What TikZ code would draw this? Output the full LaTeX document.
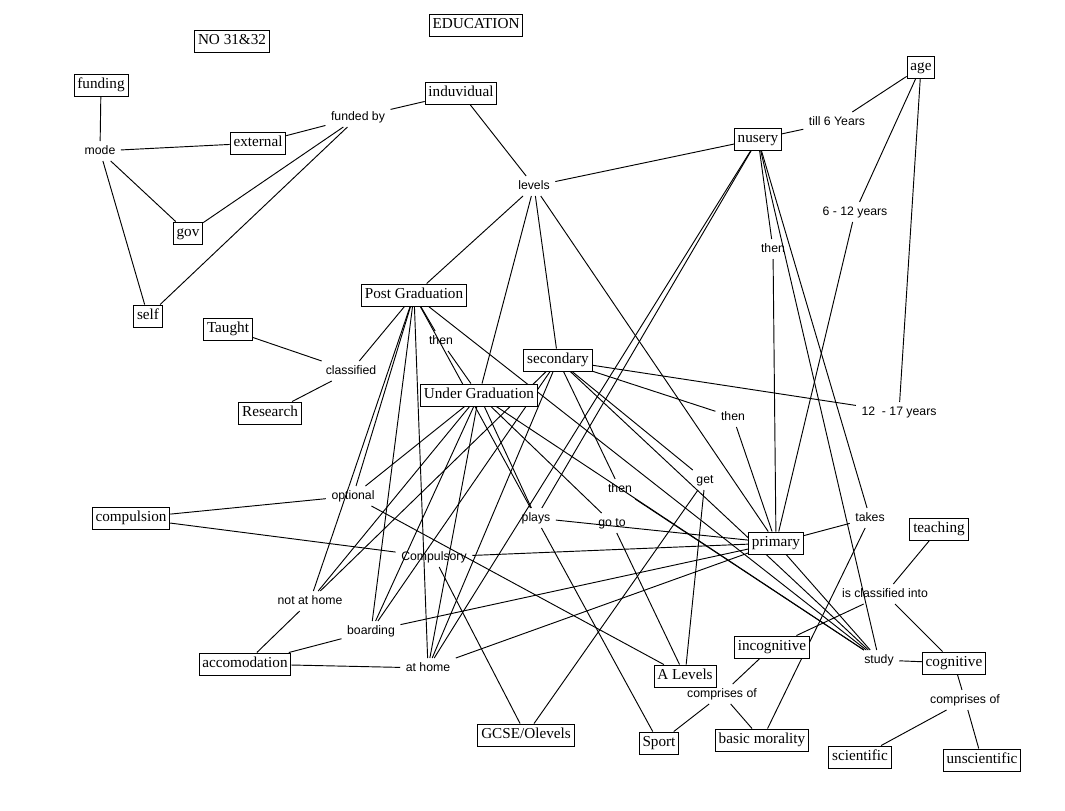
\documentclass[tikz,border=0pt]{standalone}
\usepackage{fontspec}
\setmainfont{Liberation Serif}
\newfontfamily\lsans{Liberation Sans}
\usetikzlibrary{backgrounds}
\begin{document}
\begin{tikzpicture}[x=0.75pt,y=-0.75pt,
  box/.style={draw, fill=white, line width=0.7pt, font=\fontsize{11.4}{13}\selectfont,
    inner xsep=2.5pt, inner ysep=3pt, text height=8pt, text depth=2.5pt},
  lbl/.style={font=\lsans\fontsize{9.2}{11}\selectfont, inner xsep=4pt, inner ysep=3pt,
    text height=6.8pt, text depth=1.8pt},
  edge/.style={line width=0.7pt, black}]
\useasboundingbox (0,0) rectangle (1065,811);
% nodes
\node[box] (edu) at (476,25) {EDUCATION};
\node[box] (no) at (232,41) {NO 31\&32};
\node[box] (funding) at (101,85) {funding};
\node[box] (induvidual) at (461,93) {induvidual};
\node[lbl] (fundedby) at (358,117) {funded by};
\node[lbl] (mode) at (100,151) {mode};
\node[box] (external) at (258,143) {external};
\node[box] (gov) at (188,233) {gov};
\node[box] (self) at (148,316) {self};
\node[lbl] (levels) at (534,186) {levels};
\node[box] (age) at (921,67) {age};
\node[lbl] (till6) at (837,122) {till 6 Years};
\node[box] (nusery) at (758,139) {nusery};
\node[lbl] (y612) at (855,212) {6 - 12 years};
\node[lbl] (then1) at (773,249) {then};
\node[box] (pg) at (414,295) {Post Graduation};
\node[box] (taught) at (228,329) {Taught};
\node[lbl] (classified) at (351,371) {classified};
\node[box] (research) at (270,413) {Research};
\node[lbl] (then2) at (441,341) {then};
\node[box] (secondary) at (558,360) {secondary};
\node[box] (ug) at (479,395) {Under Graduation};
\node[lbl] (then3) at (733,417) {then};
\node[lbl] (y1217) at (899,412) {12\ \ - 17 years};
\node[lbl] (get) at (705,480) {get};
\node[lbl] (then4) at (620,489) {then};
\node[lbl] (optional) at (353,496) {optional};
\node[box] (compulsion) at (131,518) {compulsion};
\node[lbl] (plays) at (536,518) {plays};
\node[lbl] (goto) at (612,523) {go to};
\node[lbl] (takes) at (870,518) {takes};
\node[box] (teaching) at (939,529) {teaching};
\node[box] (primary) at (776,543) {primary};
\node[lbl] (compulsory) at (434,557) {Compulsory};
\node[lbl] (isclass) at (885,594) {is classified into};
\node[lbl] (notathome) at (310,601) {not at home};
\node[lbl] (boarding) at (371,631) {boarding};
\node[box] (incognitive) at (772,647) {incognitive};
\node[lbl] (study) at (879,660) {study};
\node[box] (cognitive) at (954,663) {cognitive};
\node[box] (accomodation) at (245,664) {accomodation};
\node[lbl] (athome) at (428,668) {at home};
\node[box] (alevels) at (685,676) {A Levels};
\node[lbl] (compA) at (722,694) {comprises of};
\node[lbl] (compB) at (965,700) {comprises of};
\node[box] (gcse) at (526,735) {GCSE/Olevels};
\node[box] (sport) at (659,743) {Sport};
\node[box] (basic) at (762,740) {basic morality};
\node[box] (scientific) at (860,757) {scientific};
\node[box] (unscientific) at (982,760) {unscientific};
% connectors
\begin{scope}[on background layer]
\fill[white] (0,0) rectangle (1065,811);
\foreach \a/\b in {funding/mode, mode/external, mode/gov, mode/self,
  external/fundedby, gov/fundedby, self/fundedby, fundedby/induvidual,
  induvidual/levels, levels/nusery, levels/pg, levels/ug, levels/secondary, levels/primary,
  nusery/till6, till6/age, age/y612, y612/primary, age/y1217, y1217/secondary,
  nusery/then1, then1/primary, nusery/takes, nusery/study, nusery/plays, nusery/athome,
  pg/then2, then2/ug, pg/classified, classified/taught, classified/research,
  pg/optional, pg/notathome, pg/boarding, pg/athome, pg/plays, pg/study,
  ug/optional, ug/notathome, ug/boarding, ug/athome, ug/plays, ug/goto, ug/study,
  secondary/then3, then3/primary, secondary/then4, then4/study, secondary/get,
  secondary/notathome, secondary/boarding, secondary/athome, secondary/study,
  get/gcse, get/alevels,
  primary/plays, primary/compulsory, primary/boarding, primary/athome, primary/takes, primary/study,
  compulsion/optional, compulsion/compulsory, optional/alevels, compulsory/gcse,
  notathome/accomodation, boarding/accomodation, athome/accomodation,
  plays/sport, goto/alevels, takes/basic,
  teaching/isclass, isclass/incognitive, isclass/cognitive, study/cognitive,
  incognitive/compA, compA/sport, compA/basic,
  cognitive/compB, compB/scientific, compB/unscientific}
  \draw[edge] (\a) -- (\b);
\end{scope}
\end{tikzpicture}
\end{document}
